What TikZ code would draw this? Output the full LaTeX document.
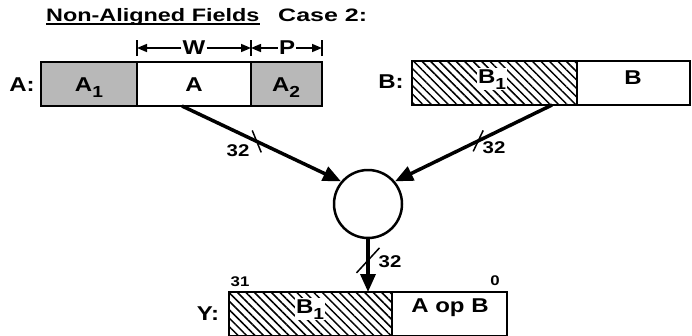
\documentclass[tikz,border=0pt]{standalone}
\usepackage{fontspec}
\setmainfont{Liberation Sans}
\usetikzlibrary{arrows.meta,patterns.meta,positioning}
\newcommand{\wtxt}[1]{\scalebox{1.2}[1]{#1}}
\newcommand{\subidx}[1]{\raisebox{-6pt}{\fontsize{16}{16}\selectfont #1}}
\tikzset{
  lbl/.style={font=\fontsize{20}{22}\selectfont\bfseries, inner sep=1pt},
  head/.style={font=\fontsize{18}{20}\selectfont\bfseries, inner sep=0pt, anchor=base west},
  num/.style={font=\fontsize{17}{19}\selectfont\bfseries, inner sep=1pt},
  small num/.style={font=\fontsize{14}{16}\selectfont\bfseries, inner sep=1pt},
  field/.style={draw, line width=2.5pt, minimum height=44pt, inner sep=0pt, outer sep=0pt, anchor=north west},
  dots/.style={fill=black!28},
  hatch/.style={pattern={Lines[angle=-45,distance=6pt,line width=1.5pt]}},
  dim/.style={line width=1.5pt, -{Triangle[length=10pt,width=8pt]}},
  tick/.style={line width=1.5pt},
  bus/.style={line width=3.5pt, -{Triangle[length=18pt,width=15pt]}},
  slash/.style={line width=1.5pt}
}
\begin{document}
\begin{tikzpicture}[x=1pt,y=-1pt]
  \useasboundingbox (0,0) rectangle (692,335);
  %Title
  \node[head] (title) at (46,21) {\scalebox{1.3}[1]{Non-Aligned Fields}};
  \draw[line width=1.8pt] ([yshift=-3pt]title.base west) -- ([yshift=-3pt]title.base east);
  \node[head] (case) at (278,21) {\scalebox{1.39}[1]{Case 2:}};
  %Register A
  \node[field, dots, minimum width=96pt] (a1) at (41,62) {};
  \node[field, minimum width=114pt] (a) at (137,62) {};
  \node[field, dots, minimum width=71pt] (a2) at (251,62) {};
  \node[lbl] (aname) at (22,85) {\wtxt{A:}};
  \node[lbl, anchor=base] (a1txt) at (89,91) {\wtxt{A\subidx{1}}};
  \node[lbl, anchor=base] (atxt) at (194,91) {\wtxt{A}};
  \node[lbl, anchor=base] (a2txt) at (286,91) {\wtxt{A\subidx{2}}};
  %Widths
  \node[lbl] (wl) at (194,48) {\wtxt{W}};
  \node[lbl] (pl) at (287,48) {\wtxt{P}};
  \draw[tick] ([yshift=6pt]a.north west) -- ([yshift=22pt]a.north west);
  \draw[tick] ([yshift=6pt]a.north east) -- ([yshift=22pt]a.north east);
  \draw[tick] ([yshift=6pt]a2.north east) -- ([yshift=22pt]a2.north east);
  \draw[dim] (wl) -- ([yshift=14pt]a.north west);
  \draw[dim] (wl) -- ([yshift=14pt]a.north east);
  \draw[dim] (pl) -- ([yshift=14pt]a2.north west);
  \draw[dim] (pl) -- ([yshift=14pt]a2.north east);
  %Register B
  \node[field, hatch, minimum width=165pt] (b1) at (412,61) {};
  \node[field, minimum width=113pt] (b) at (577,61) {};
  \node[lbl] (bname) at (391,82) {\wtxt{B:}};
  \node[lbl, anchor=base, fill=white] (b1txt) at (492,83) {\wtxt{B\subidx{1}}};
  \node[lbl, anchor=base] (btxt) at (633,84) {\wtxt{B}};
  %Operator
  \node[circle, draw, line width=2.5pt, minimum size=68pt, inner sep=0pt] (op) at (368,204) {};
  \coordinate (sa) at ([xshift=-12pt]a.south);
  \coordinate (sb) at ([xshift=-25pt]b1.south east);
  \draw[bus] (sa) -- coordinate[pos=0.47] (ma) (op.140);
  \draw[bus] (sb) -- coordinate[pos=0.47] (mb) (op.40);
  \draw[slash] ([shift={(-4.5pt,11pt)}]ma) -- ([shift={(4.5pt,-11pt)}]ma);
  \draw[slash] ([shift={(5pt,10.5pt)}]mb) -- ([shift={(-5pt,-10.5pt)}]mb);
  \node[num] (na) at (238,151) {\wtxt{32}};
  \node[num] (nb) at (494,148) {\wtxt{32}};
  %Register Y
  \node[field, hatch, minimum width=163pt] (yb1) at (229,292) {};
  \node[field, minimum width=115pt] (yab) at (392,292) {};
  \node[lbl] (yname) at (208,314) {\wtxt{Y:}};
  \node[lbl, anchor=base, fill=white] (yb1txt) at (310,313) {\wtxt{B\subidx{1}}};
  \node[lbl, anchor=base] (yabtxt) at (450,312) {\wtxt{A op B}};
  \node[small num] (msb) at (240,282) {\wtxt{31}};
  \node[small num] (lsb) at (495,281) {\wtxt{0}};
  \coordinate (ye) at ([xshift=-24pt]yb1.north east);
  \draw[bus] (op.south) -- coordinate[pos=0.4] (my) (ye);
  \draw[slash] ([shift={(-11.5pt,-12.5pt)}]my) -- ([shift={(11.5pt,12.5pt)}]my);
  \node[num] (ny) at (390,262) {\wtxt{32}};
\end{tikzpicture}
\end{document}
